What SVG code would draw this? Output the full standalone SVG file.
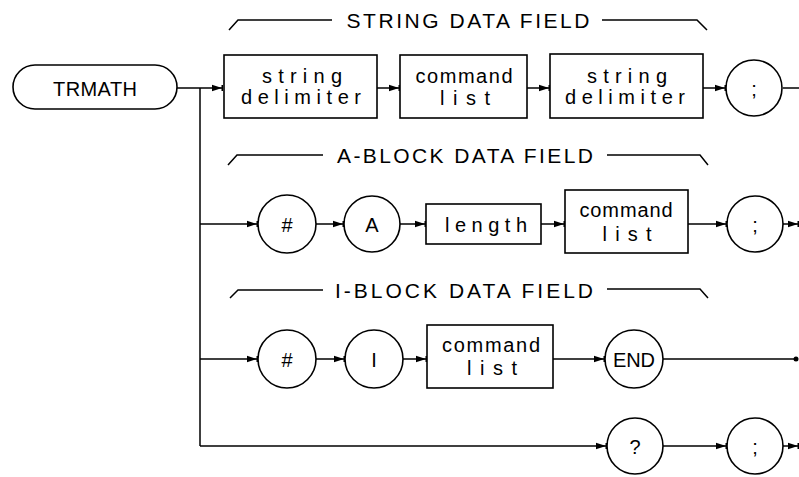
<svg xmlns="http://www.w3.org/2000/svg" width="799" height="477" viewBox="0 0 799 477">
<style>
  .shape { fill: #fff; stroke: #000; stroke-width: 1.6; }
  .line { fill: none; stroke: #000; stroke-width: 1.5; }
  .arrow { fill: none; stroke: #000; stroke-width: 1.5; marker-end: url(#arr); }
  .t { font-family: "Liberation Sans", Arial, sans-serif; font-size: 20px; fill: #000; text-anchor: middle; }
  .lbl { font-family: "Liberation Sans", Arial, sans-serif; font-size: 21px; fill: #000; text-anchor: middle; }
</style>
<defs>
  <marker id="arr" markerUnits="userSpaceOnUse" markerWidth="11" markerHeight="8" refX="11" refY="4" orient="auto">
    <path d="M0,0.8 L10,4 L0,7.2 Z" fill="#000"/>
    <rect x="9.5" y="1" width="1.5" height="6" fill="#000"/>
  </marker>
</defs>

<!-- field labels -->
<g id="label-string">
  <polyline class="line" points="229,30 238,20 332,20"/>
  <text class="lbl" x="468" y="28" textLength="243" lengthAdjust="spacing">STRING DATA FIELD</text>
  <polyline class="line" points="602,20 697,20 707,30"/>
</g>
<g id="label-ablock">
  <polyline class="line" points="228,165 237,155 323,155"/>
  <text class="lbl" x="465" y="163" textLength="256" lengthAdjust="spacing">A-BLOCK DATA FIELD</text>
  <polyline class="line" points="607,155 700,155 708,165"/>
</g>
<g id="label-iblock">
  <polyline class="line" points="230,298 238,290 323,290"/>
  <text class="lbl" x="464" y="298" textLength="258" lengthAdjust="spacing">I-BLOCK DATA FIELD</text>
  <polyline class="line" points="607,289 700,289 708,298"/>
</g>

<!-- connectors -->
<g id="connectors">
  <line class="line" x1="200" y1="88" x2="200" y2="446"/>
  <!-- row 1 -->
  <line class="arrow" x1="177" y1="88" x2="223" y2="88"/>
  <line class="arrow" x1="377" y1="88" x2="400" y2="88"/>
  <line class="arrow" x1="527" y1="88" x2="550" y2="88"/>
  <line class="arrow" x1="703" y1="88" x2="726" y2="88"/>
  <line class="line" x1="783" y1="88" x2="799" y2="88"/>
  <!-- row 2 -->
  <line class="arrow" x1="200" y1="224" x2="258" y2="224"/>
  <line class="arrow" x1="316" y1="224" x2="344" y2="224"/>
  <line class="arrow" x1="400" y1="224" x2="426" y2="224"/>
  <line class="arrow" x1="541" y1="224" x2="565" y2="224"/>
  <line class="arrow" x1="688" y1="224" x2="727" y2="224"/>
  <line class="arrow" x1="783" y1="224" x2="799" y2="224"/>
  <!-- row 3 -->
  <line class="arrow" x1="200" y1="359" x2="258" y2="359"/>
  <line class="arrow" x1="316" y1="359" x2="345" y2="359"/>
  <line class="arrow" x1="403" y1="359" x2="427" y2="359"/>
  <line class="arrow" x1="553" y1="359" x2="605" y2="359"/>
  <line class="line" x1="663" y1="359" x2="797" y2="359"/>
  <circle cx="796" cy="359" r="2.5" fill="#000"/>
  <!-- row 4 -->
  <line class="arrow" x1="200" y1="446" x2="607" y2="446"/>
  <line class="arrow" x1="663" y1="446" x2="727" y2="446"/>
  <line class="arrow" x1="783" y1="446" x2="799" y2="446"/>
</g>

<!-- nodes -->
<g id="trmath">
  <rect class="shape" x="13" y="65" width="164" height="44" rx="22" ry="22"/>
  <text class="t" x="95" y="96" font-size="21" textLength="84" lengthAdjust="spacing">TRMATH</text>
</g>

<!-- row 1 -->
<g id="string-delim-1">
  <rect class="shape" x="224" y="55" width="153" height="63"/>
  <text class="t" x="302" y="83" textLength="80" lengthAdjust="spacing">string</text>
  <text class="t" x="301" y="104" textLength="120" lengthAdjust="spacing">delimiter</text>
</g>
<g id="command-list-1">
  <rect class="shape" x="400" y="55" width="127" height="63"/>
  <text class="t" x="464" y="83" textLength="97" lengthAdjust="spacing">command</text>
  <text class="t" x="465" y="105" textLength="50" lengthAdjust="spacing">list</text>
</g>
<g id="string-delim-2">
  <rect class="shape" x="550" y="54" width="153" height="64"/>
  <text class="t" x="627" y="83" textLength="80" lengthAdjust="spacing">string</text>
  <text class="t" x="625" y="104" textLength="120" lengthAdjust="spacing">delimiter</text>
</g>
<g id="semi-1">
  <circle class="shape" cx="754" cy="88" r="28"/>
  <text class="t" x="754" y="96">;</text>
</g>

<!-- row 2 -->
<g id="hash-a">
  <circle class="shape" cx="287" cy="224" r="29"/>
  <text class="t" x="287" y="232">#</text>
</g>
<g id="a-circle">
  <circle class="shape" cx="372" cy="224" r="28"/>
  <text class="t" x="372" y="232">A</text>
</g>
<g id="length">
  <rect class="shape" x="426" y="204" width="115" height="40"/>
  <text class="t" x="486" y="232" textLength="82" lengthAdjust="spacing">length</text>
</g>
<g id="command-list-2">
  <rect class="shape" x="565" y="190" width="123" height="63"/>
  <text class="t" x="626" y="217" textLength="93" lengthAdjust="spacing">command</text>
  <text class="t" x="627" y="241" textLength="49" lengthAdjust="spacing">list</text>
</g>
<g id="semi-2">
  <circle class="shape" cx="755" cy="224" r="28"/>
  <text class="t" x="755" y="232">;</text>
</g>

<!-- row 3 -->
<g id="hash-i">
  <circle class="shape" cx="287" cy="359" r="29"/>
  <text class="t" x="287" y="367">#</text>
</g>
<g id="i-circle">
  <circle class="shape" cx="374" cy="359" r="29"/>
  <text class="t" x="374" y="367">I</text>
</g>
<g id="command-list-3">
  <rect class="shape" x="427" y="325" width="126" height="63"/>
  <text class="t" x="491" y="352" textLength="98" lengthAdjust="spacing">command</text>
  <text class="t" x="492" y="375" textLength="50" lengthAdjust="spacing">list</text>
</g>
<g id="end">
  <circle class="shape" cx="634" cy="359" r="29"/>
  <text class="t" x="634" y="367" font-size="19" textLength="42" lengthAdjust="spacing">END</text>
</g>

<!-- row 4 -->
<g id="query">
  <circle class="shape" cx="635" cy="446" r="28"/>
  <text class="t" x="635" y="454">?</text>
</g>
<g id="semi-4">
  <circle class="shape" cx="755" cy="446" r="28"/>
  <text class="t" x="755" y="454">;</text>
</g>
</svg>
